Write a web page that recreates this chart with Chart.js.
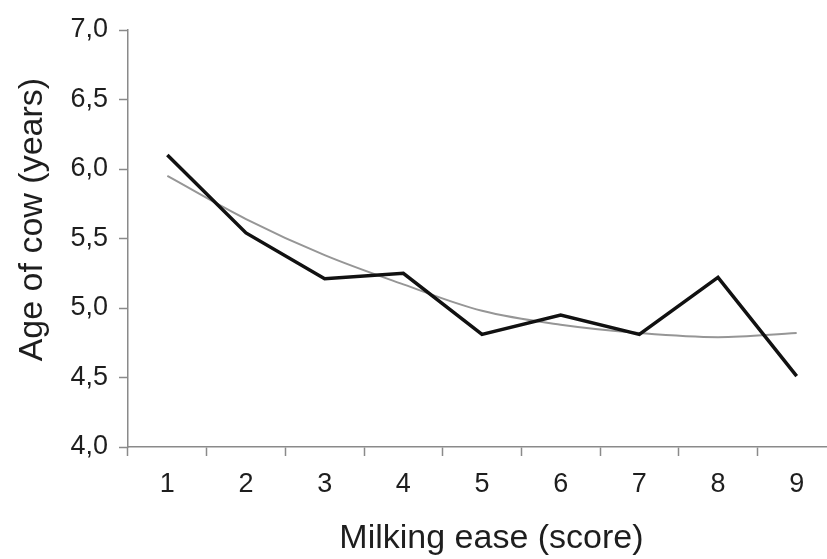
<!DOCTYPE html>
<html>
<head>
<meta charset="utf-8">
<script src="https://cdn.jsdelivr.net/npm/chart.js@4/dist/chart.umd.min.js"></script>
<style>
  html, body { margin: 0; padding: 0; background: #fff; overflow: hidden; }
</style>
</head>
<body>
<canvas id="chart" width="836" height="559"></canvas>
<script>
const scores = ['1', '2', '3', '4', '5', '6', '7', '8', '9'];
const ageObserved = [6.1, 5.54, 5.21, 5.25, 4.81, 4.95, 4.81, 5.22, 4.51];
const ageTrend = [5.95, 5.64, 5.38, 5.17, 4.98, 4.88, 4.82, 4.79, 4.82];

const axisColor = '#8a8a8a';
const textColor = '#1e1e1e';
const fontFamily = '"Liberation Sans", Arial, sans-serif';

new Chart(document.getElementById('chart'), {
  type: 'line',
  data: {
    labels: scores,
    datasets: [
      {
        label: 'Observed',
        data: ageObserved,
        borderColor: '#111',
        borderWidth: 3.5,
        pointRadius: 0,
        tension: 0,
        fill: false,
      },
      {
        label: 'Trend',
        data: ageTrend,
        borderColor: '#969696',
        borderWidth: 2,
        pointRadius: 0,
        tension: 0.35,
        fill: false,
      },
    ],
  },
  options: {
    responsive: false,
    animation: false,
    layout: { padding: { top: 30, left: 0, right: 0, bottom: 0 } },
    plugins: {
      legend: { display: false },
      tooltip: { enabled: false },
    },
    scales: {
      x: {
        offset: true,
        grid: {
          offset: true,
          drawOnChartArea: false,
          drawTicks: true,
          tickLength: 9,
          tickWidth: 1.5,
          color: axisColor,
        },
        border: { color: axisColor, width: 1.5 },
        ticks: {
          color: textColor,
          font: { family: fontFamily, size: 27 },
          padding: 12,
          maxRotation: 0,
        },
        title: {
          display: true,
          // leading spaces nudge the title a bit right, as in the original
          text: '  Milking ease (score)',
          color: textColor,
          font: { family: fontFamily, size: 34 },
          padding: { top: 0, bottom: 0 },
        },
        afterFit: (scale) => { scale.height = 112; },
      },
      y: {
        min: 4,
        max: 7,
        grid: {
          drawOnChartArea: false,
          drawTicks: true,
          tickLength: 9,
          tickWidth: 1.5,
          color: axisColor,
        },
        border: { color: axisColor, width: 1.5 },
        ticks: {
          stepSize: 0.5,
          color: textColor,
          font: { family: fontFamily, size: 27 },
          padding: 11,
          callback: (v) => v.toFixed(1).replace('.', ','),
        },
        title: {
          display: true,
          // leading spaces nudge the rotated title up a little, as in the original
          text: '    Age of cow (years)',
          color: textColor,
          font: { family: fontFamily, size: 34 },
          padding: { top: 12, bottom: 0 },
        },
        afterFit: (scale) => { scale.width = 128; },
      },
    },
  },
});
</script>
</body>
</html>
